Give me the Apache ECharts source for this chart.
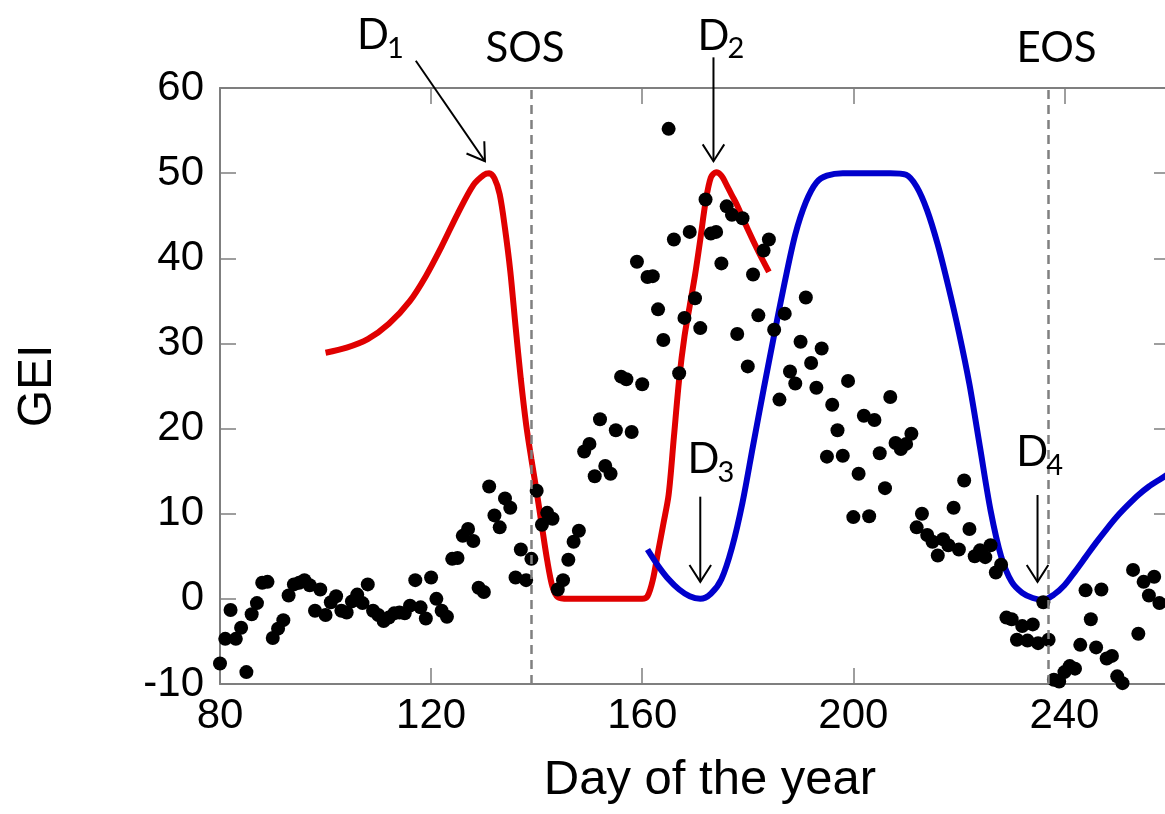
<!DOCTYPE html>
<html>
<head>
<meta charset="utf-8">
<script src="https://cdn.jsdelivr.net/npm/echarts@6/dist/echarts.min.js"></script>
<style>
  html, body { margin: 0; padding: 0; background: #ffffff; }
  #chart { width: 1165px; height: 814px; }
</style>
</head>
<body>
<div id="chart"></div>
<script>
// Observed GEI, one value per day of year
const obsDays = [80,81,82,83,84,85,86,87,88,89,90,91,92,93,94,95,96,97,98,99,
  100,101,102,103,104,105,106,107,108,109,110,111,112,113,114,115,116,117,118,119,
  120,121,122,123,124,125,126,127,128,129,130,131,132,133,134,135,136,137,138,139,
  140,141,142,143,144,145,146,147,148,149,150,151,152,153,154,155,156,157,158,159,
  160,161,162,163,164,165,166,167,168,169,170,171,172,173,174,175,176,177,178,179,
  180,181,182,183,184,185,186,187,188,189,190,191,192,193,194,195,196,197,198,199,
  200,201,202,203,204,205,206,207,208,209,210,211,212,213,214,215,216,217,218,219,
  220,221,222,223,224,225,226,227,228,229,230,231,232,233,234,235,236,237,238,239,
  240,241,242,243,244,245,246,247,248,249,250,251,253,254,255,256,257,258];
const obsGEI = [-7.6,-4.7,-1.3,-4.7,-3.4,-8.6,-1.8,-0.5,1.9,2.0,-4.6,-3.5,-2.5,0.4,1.7,1.9,2.2,1.6,-1.4,1.1,
  -1.9,-0.4,0.3,-1.4,-1.6,-0.3,0.5,-0.5,1.7,-1.4,-1.9,-2.6,-2.2,-1.7,-1.6,-1.7,-0.8,2.2,-1.0,-2.3,
  2.5,0.0,-1.4,-2.1,4.7,4.8,7.4,8.2,6.8,1.3,0.8,13.2,9.8,8.4,11.8,10.7,2.5,5.8,2.2,4.7,
  12.7,8.7,10.1,9.4,1.1,2.2,4.6,6.7,8.0,17.3,18.2,14.4,21.1,15.6,14.7,19.8,26.1,25.8,19.6,39.6,
  25.2,37.8,37.9,34.0,30.4,55.2,42.2,26.5,33.0,43.1,35.3,31.8,46.9,42.9,43.1,39.4,46.1,45.1,31.1,44.7,
  27.3,38.1,33.3,40.9,42.2,31.6,23.4,33.5,26.7,25.3,30.2,35.4,27.7,24.8,29.4,16.7,22.8,19.8,16.8,25.6,
  9.6,14.7,21.5,9.7,21.0,17.1,13.0,23.7,18.3,17.6,18.2,19.4,8.4,10.0,7.5,6.7,5.1,7.0,6.3,10.7,
  5.8,13.9,8.2,5.0,5.7,4.9,6.3,3.1,4.0,-2.2,-2.4,-4.8,-3.2,-4.9,-3.0,-5.2,-0.4,-4.8,-9.5,-9.7,
  -8.6,-7.9,-8.2,-5.4,1.0,-2.4,-5.7,1.1,-7.0,-6.7,-9.1,-9.9,3.4,-4.1,2.0,0.4,2.6,-0.5];

// First fitted curve (red), spanning the D1 and D2 peaks
const redDays = [100,104,108,112,116,119,122,125,128,130,131,132,133,134,135,136,137,138,139,140,141,142,143,144,
  146,150,155,160,161,162,163,164,165,166,167,168,169,170,171,172,173,174,175,176,177,178,180,182,184];
const redGEI = [28.9,29.5,30.5,32.3,35.0,37.9,41.4,45.2,48.6,49.8,50.0,49.4,47.5,43.5,38.5,32.0,25.8,20.5,16.4,12.6,8.5,4.5,1.4,0.2,
  0.0,0.0,0.0,0.0,0.3,2.2,5.5,8.8,12.2,19.0,25.8,30.8,34.4,38.0,42.2,46.6,49.5,50.1,49.7,48.6,47.4,46.2,43.4,40.8,38.4];

// Second fitted curve (blue), from D3 through the plateau to D4
const blueDays = [161,163,165,167,169,171,173,175,177,179,181,183,185,187,189,191,193,195,198,
  201,204,207,210,212,214,216,218,220,222,224,226,228,230,232,234,236,238,240,242,244,246,248,250,252,254,256,258,260];
const blueGEI = [5.8,3.9,2.3,1.1,0.3,0.0,0.6,2.3,6.0,11.3,18.0,24.6,31.0,37.2,42.8,46.6,48.9,49.7,50.0,
  50.0,50.0,50.0,49.8,48.4,45.6,41.6,36.7,31.3,25.2,17.8,10.4,5.0,2.0,0.7,0.1,-0.1,0.5,1.6,3.2,4.9,6.6,8.2,9.7,11.0,12.2,13.2,14.0,14.8];

// Start and end of season
const sosDay = 139;
const eosDay = 237;

// Axis ranges and tick steps
const xRange = [80, 260], xStep = 40;
const yRange = [-10, 60], yStep = 10;

const zip = (xs, ys) => xs.map((x, i) => [x, ys[i]]);

const axisGray = '#7f7f7f';
const tickFont = 'Liberation Sans, Arial, sans-serif';

const chart = echarts.init(document.getElementById('chart'), null, { renderer: 'canvas' });

const xBase = {
  type: 'value', min: xRange[0], max: xRange[1], interval: xStep,
  splitLine: { show: false },
  axisLine: { show: true, onZero: false, lineStyle: { color: axisGray, width: 2 } },
  axisTick: { show: true, inside: true, length: 16, lineStyle: { color: axisGray, width: 1.5 } }
};
const yBase = {
  type: 'value', min: yRange[0], max: yRange[1], interval: yStep,
  splitLine: { show: false },
  axisLine: { show: true, onZero: false, lineStyle: { color: axisGray, width: 2 } },
  axisTick: { show: true, inside: true, length: 16, lineStyle: { color: axisGray, width: 1.5 } }
};

chart.setOption({
  backgroundColor: '#ffffff',
  animation: false,
  grid: { left: 220, top: 88, width: 950, height: 596, outerBoundsMode: 'none', containLabel: false },
  xAxis: [
    Object.assign({}, xBase, {
      position: 'bottom',
      name: 'Day of the year', nameLocation: 'middle', nameGap: 72,
      nameTextStyle: { fontFamily: tickFont, fontSize: 49, color: '#000', padding: [0, 0, 0, 30] },
      axisLabel: { show: true, fontFamily: tickFont, fontSize: 42, color: '#000', margin: 11,
                   showMaxLabel: false, hideOverlap: false }
    }),
    Object.assign({}, xBase, { position: 'top', axisLabel: { show: false } })
  ],
  yAxis: [
    Object.assign({}, yBase, {
      position: 'left',
      name: 'GEI', nameLocation: 'middle', nameRotate: 90, nameGap: 158,
      nameTextStyle: { fontFamily: tickFont, fontSize: 48, color: '#000' },
      axisLabel: { show: true, fontFamily: tickFont, fontSize: 42, color: '#000', margin: 16,
                   showMinLabel: true, showMaxLabel: true, hideOverlap: false }
    }),
    Object.assign({}, yBase, { position: 'right', axisLabel: { show: false } })
  ],
  series: [
    {
      name: 'fit-1', type: 'line', data: zip(redDays, redGEI),
      smooth: 0.3, showSymbol: false, symbol: 'none', clip: true,
      lineStyle: { color: '#e00000', width: 6 }, z: 2
    },
    {
      name: 'fit-2', type: 'line', data: zip(blueDays, blueGEI),
      smooth: 0.3, showSymbol: false, symbol: 'none', clip: true,
      lineStyle: { color: '#0000cc', width: 6 }, z: 2
    },
    {
      name: 'GEI', type: 'scatter', data: zip(obsDays, obsGEI),
      symbol: 'circle', symbolSize: 14, clip: true,
      itemStyle: { color: '#000000', opacity: 1 }, z: 3,
      markLine: {
        silent: true, symbol: 'none', animation: false,
        label: { show: false },
        lineStyle: { color: '#808080', width: 2.5, type: [9, 6] },
        data: [{ xAxis: sosDay }, { xAxis: eosDay }]
      }
    }
  ]
});

// Annotations in data coordinates: labels and arrows
const annotations = [
  { main: 'D', sub: '1', at: [109.0, 66.2], tail: [117.1, 63.2], tip: [130.2, 51.4] },
  { main: 'D', sub: '2', at: [173.5, 66.1], tail: [173.5, 63.6], tip: [173.5, 51.4] },
  { main: 'D', sub: '3', at: [171.6, 16.4], tail: [171.0, 12.0], tip: [171.0, 2.0] },
  { main: 'D', sub: '4', at: [233.9, 17.2], tail: [234.9, 12.2], tip: [234.9, 2.0] },
  { main: 'SOS', sub: '', at: [137.8, 64.6] },
  { main: 'EOS', sub: '', at: [238.5, 64.6] }
];

const labelFont = 'Lato, "Open Sans", sans-serif';
const toPx = (p) => chart.convertToPixel({ gridIndex: 0 }, p);

const graphics = [];
annotations.forEach((a) => {
  const c = toPx(a.at);
  graphics.push({
    type: 'text', x: c[0], y: c[1], z: 10,
    style: { text: a.main, fontFamily: labelFont, fontSize: 42, fill: '#000',
             align: 'center', verticalAlign: 'middle' }
  });
  if (a.sub) {
    graphics.push({
      type: 'text', x: c[0] + 14, y: c[1] + 13, z: 10,
      style: { text: a.sub, fontFamily: labelFont, fontSize: 29, fill: '#000',
               align: 'left', verticalAlign: 'middle' }
    });
  }
  if (a.tail) {
    const t = toPx(a.tail), h = toPx(a.tip);
    const ang = Math.atan2(h[1] - t[1], h[0] - t[0]);
    const len = 20, spread = 0.57;
    const w1 = [h[0] - len * Math.cos(ang - spread), h[1] - len * Math.sin(ang - spread)];
    const w2 = [h[0] - len * Math.cos(ang + spread), h[1] - len * Math.sin(ang + spread)];
    graphics.push({
      type: 'polyline', z: 10,
      shape: { points: [t, h] },
      style: { stroke: '#000', lineWidth: 2, fill: null }
    });
    graphics.push({
      type: 'polyline', z: 10,
      shape: { points: [w1, h, w2] },
      style: { stroke: '#000', lineWidth: 2, fill: null }
    });
  }
});
chart.setOption({ graphic: graphics });
</script>
</body>
</html>
